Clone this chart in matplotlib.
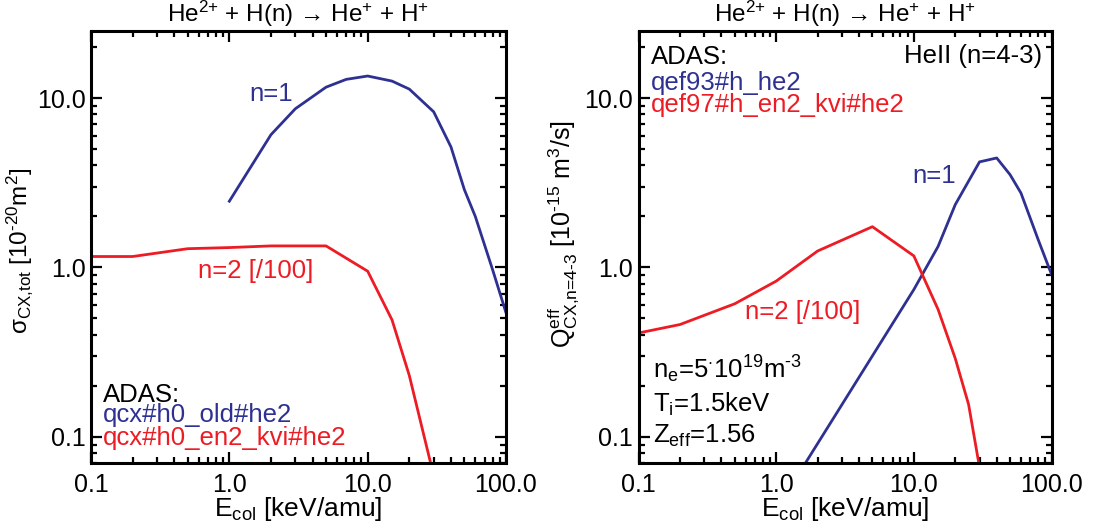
import matplotlib
matplotlib.use("Agg")
import matplotlib.pyplot as plt
from matplotlib.ticker import FixedLocator, FixedFormatter, LogLocator, NullFormatter

plt.rcParams['font.family'] = ['Liberation Sans', 'DejaVu Sans']
plt.rcParams['mathtext.fontset'] = 'custom'
plt.rcParams['mathtext.rm'] = 'Liberation Sans'
plt.rcParams['mathtext.it'] = 'Liberation Sans:italic'
plt.rcParams['mathtext.bf'] = 'Liberation Sans:bold'
plt.rcParams['mathtext.sf'] = 'Liberation Sans'

# ---------------- data ----------------
E_left_n1 = [1, 2, 3, 5, 7, 10, 15, 20, 30, 40, 50, 60, 80, 100]
sigma_n1 = [2.46, 6.08, 8.65, 11.6, 12.9, 13.5, 12.6, 11.3, 8.3, 5.15, 2.88, 2.0, 0.97, 0.54]

E_left_n2 = [0.1, 0.2, 0.5, 1, 2, 5, 10, 15, 20, 30]
sigma_n2 = [1.16, 1.16, 1.29, 1.31, 1.34, 1.34, 0.95, 0.49, 0.23, 0.059]

E_right_n1 = [1, 10, 15, 20, 30, 40, 50, 60, 80, 100]
qeff_n1 = [0.037, 0.74, 1.33, 2.35, 4.2, 4.43, 3.53, 2.75, 1.46, 0.91]

E_right_n2 = [0.1, 0.2, 0.5, 1, 2, 5, 10, 15, 20, 25, 30]
qeff_n2 = [0.41, 0.46, 0.61, 0.83, 1.25, 1.74, 1.17, 0.565, 0.29, 0.155, 0.066]

x_ticks = [0.1, 1.0, 10.0, 100.0]
x_ticklabels = ['0.1', '1.0', '10.0', '100.0']
y_ticks = [0.1, 1.0, 10.0]
y_ticklabels = ['0.1', '1.0', '10.0']

BLUE = '#2E3192'
RED = '#ED1C24'

fig = plt.figure(figsize=(11.09, 5.31), dpi=100)
H = 432.3 / 531
B = (531 - 463) / 531
axL = fig.add_axes([91 / 1109, B, 415 / 1109, H])
axR = fig.add_axes([638.5 / 1109, B, 413 / 1109, H])

title = r'He$^{\text{2+}}$ + H(n) → He$^{\text{+}}$ + H$^{\text{+}}$'

for ax in (axL, axR):
    ax.set_xscale('log')
    ax.set_yscale('log')
    ax.set_xlim(0.1, 100)
    ax.set_ylim(0.07, 25)
    ax.xaxis.set_major_locator(FixedLocator(x_ticks))
    ax.xaxis.set_major_formatter(FixedFormatter(x_ticklabels))
    ax.yaxis.set_major_locator(FixedLocator(y_ticks))
    ax.yaxis.set_major_formatter(FixedFormatter(y_ticklabels))
    ax.xaxis.set_minor_locator(LogLocator(base=10, subs=range(2, 10)))
    ax.yaxis.set_minor_locator(LogLocator(base=10, subs=range(2, 10)))
    ax.xaxis.set_minor_formatter(NullFormatter())
    ax.yaxis.set_minor_formatter(NullFormatter())
    ax.tick_params(which='both', direction='in', top=True, right=True, width=1.6, colors='black')
    ax.tick_params(which='major', length=8, labelsize=18)
    ax.tick_params(which='minor', length=4.5)
    ax.tick_params(axis='x', which='major', pad=7)
    ax.tick_params(axis='y', which='major', pad=4)
    for s in ax.spines.values():
        s.set_linewidth(2.2)
    ax.set_title(title, fontsize=17.5, pad=6)
    ax.set_xlabel(r'E$_{\text{col}}$ [keV/amu]', fontsize=19)
    ax.xaxis.set_label_coords(0.5, -0.075)

FS = 18.5

# left panel
axL.plot(E_left_n1, sigma_n1, color=BLUE, lw=2)
axL.plot(E_left_n2, sigma_n2, color=RED, lw=2)
axL.set_ylabel(r'σ$_{\text{CX,tot}}$ [10$^{\text{-20}}$m$^{\text{2}}$]', fontsize=17.5)
axL.yaxis.set_label_coords(-0.135, 0.49)

axL.text(0.381, 0.837, 'n=1', color=BLUE, fontsize=FS, transform=axL.transAxes, va='baseline')
axL.text(0.2586, 0.428, 'n=2 [/100]', color=RED, fontsize=FS, transform=axL.transAxes, va='baseline')
axL.text(0.0296, 0.1418, 'ADAS:', color='black', fontsize=FS, transform=axL.transAxes, va='baseline')
axL.text(0.0296, 0.0955, 'qcx#h0_old#he2', color=BLUE, fontsize=FS, transform=axL.transAxes, va='baseline')
axL.text(0.0296, 0.0416, 'qcx#h0_en2_kvi#he2', color=RED, fontsize=FS, transform=axL.transAxes, va='baseline')

# right panel
axR.plot(E_right_n1, qeff_n1, color=BLUE, lw=2)
axR.plot(E_right_n2, qeff_n2, color=RED, lw=2)
axR.set_ylabel(r'Q$^{\text{eff}}_{\text{CX,n=4-3}}$ [10$^{\text{-15}}$ m$^{\text{3}}$/s]', fontsize=18)
axR.yaxis.set_label_coords(-0.14, 0.53)

axR.text(0.0303, 0.923, 'ADAS:', color='black', fontsize=FS, transform=axR.transAxes, va='baseline')
axR.text(0.0303, 0.863, 'qef93#h_he2', color=BLUE, fontsize=FS, transform=axR.transAxes, va='baseline')
axR.text(0.0303, 0.812, 'qef97#h_en2_kvi#he2', color=RED, fontsize=FS, transform=axR.transAxes, va='baseline')
axR.text(0.9785, 0.925, 'HeII (n=4-3)', color='black', fontsize=FS, transform=axR.transAxes, va='baseline', ha='right')
axR.text(0.6637, 0.648, 'n=1', color=BLUE, fontsize=FS, transform=axR.transAxes, va='baseline')
axR.text(0.2586, 0.333, 'n=2 [/100]', color=RED, fontsize=FS, transform=axR.transAxes, va='baseline')
axR.text(0.0344, 0.1966, r'n$_{\text{e}}$=5$^{\cdot}$10$^{\text{19}}$m$^{\text{-3}}$', color='black', fontsize=FS,
         transform=axR.transAxes, va='baseline')
axR.text(0.0344, 0.1187, r'T$_{\text{i}}$=1.5keV', color='black', fontsize=FS,
         transform=axR.transAxes, va='baseline')
axR.text(0.0344, 0.0463, r'Z$_{\text{eff}}$=1.56', color='black', fontsize=FS,
         transform=axR.transAxes, va='baseline')

fig.savefig('out.png', dpi=100)
